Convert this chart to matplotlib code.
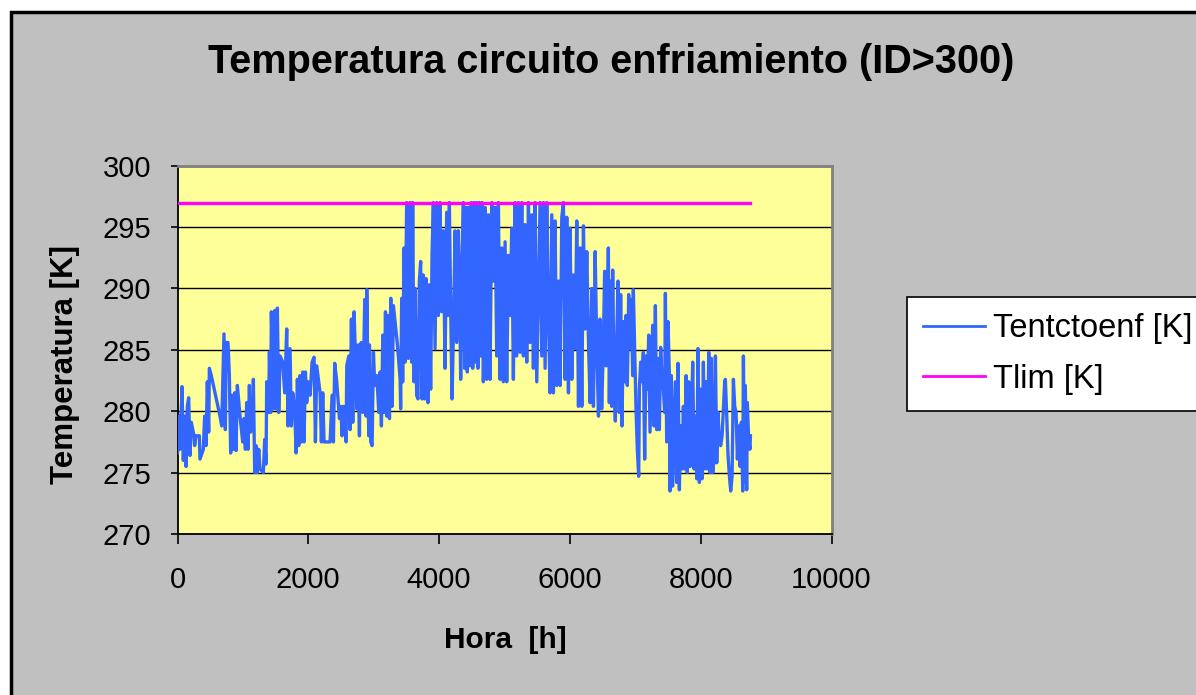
import matplotlib.pyplot as plt
from matplotlib.patches import Rectangle
from matplotlib.lines import Line2D

plt.rcParams["font.family"] = ["Liberation Sans", "DejaVu Sans"]

# hourly cooling-circuit temperature (thinned)
hours = [
    0, 28, 38, 69, 89, 109, 130, 150, 171, 191, 211, 252, 262, 283, 334, 344,
    395, 415, 436, 456, 477, 487, 517, 650, 676, 711, 732, 742, 772, 793, 813,
    834, 854, 874, 895, 915, 956, 997, 1017, 1038, 1058, 1078, 1099, 1119,
    1150, 1160, 1180, 1201, 1221, 1242, 1262, 1313, 1333, 1354, 1364, 1395,
    1405, 1425, 1435, 1466, 1486, 1507, 1527, 1548, 1568, 1609, 1639, 1670,
    1690, 1721, 1741, 1762, 1792, 1813, 1833, 1854, 1874, 1894, 1915, 1935,
    1956, 1976, 1996, 2027, 2058, 2088, 2109, 2129, 2180, 2200, 2221, 2241,
    2282, 2333, 2364, 2384, 2404, 2435, 2476, 2496, 2517, 2537, 2578, 2588,
    2619, 2639, 2659, 2680, 2700, 2721, 2741, 2761, 2782, 2792, 2812, 2833,
    2863, 2884, 2894, 2914, 2925, 2935, 2955, 2976, 2996, 3016, 3047, 3078,
    3098, 3118, 3139, 3159, 3180, 3200, 3220, 3241, 3261, 3282, 3302, 3333,
    3363, 3404,
    3412, 3428, 3443, 3463, 3479, 3504, 3530, 3555, 3581, 3596, 3616, 3632,
    3657, 3677, 3698, 3718, 3739, 3759, 3779, 3800, 3830, 3851, 3871, 3892,
    3912, 3938, 3963, 3989, 4014, 4040, 4065, 4091, 4116, 4136, 4157, 4177,
    4198, 4218, 4244, 4269, 4295, 4310, 4330, 4351, 4371, 4391, 4412, 4432,
    4453, 4473, 4493, 4514, 4534, 4555, 4575, 4595, 4616, 4636, 4657, 4677,
    4703, 4728, 4754, 4779, 4805, 4830, 4856, 4881, 4907, 4932, 4958, 4983,
    5009, 5034, 5060, 5085, 5111, 5136, 5162, 5187, 5213, 5238, 5264, 5289,
    5315, 5340, 5366, 5391, 5417, 5442, 5468, 5493, 5519, 5544, 5570, 5595,
    5621, 5646, 5672, 5697, 5723, 5748, 5774, 5799, 5825, 5850, 5876, 5901,
    5927, 5952, 5978, 6003, 6029, 6054, 6080, 6105, 6131, 6156, 6182, 6207,
    6233, 6258, 6284, 6309, 6335, 6360, 6386, 6411, 6437,
    6460, 6486, 6511, 6531, 6552, 6572, 6588, 6603, 6623, 6639, 6654, 6674,
    6695, 6715, 6735, 6756, 6776, 6797, 6817, 6837, 6858, 6878, 6899, 6919,
    6939, 6960, 6970, 6990, 7011, 7031, 7052, 7062, 7082, 7103, 7123, 7143,
    7164, 7184, 7205, 7225, 7245, 7266, 7286, 7307, 7327, 7347, 7368, 7388,
    7409, 7429, 7449, 7460, 7480, 7500, 7521, 7531, 7551, 7572, 7592, 7613,
    7633, 7653, 7674, 7694, 7715, 7735, 7755, 7776, 7796, 7817, 7837, 7857,
    7878, 7898, 7919, 7939, 7959, 7980, 8000, 8021, 8041, 8061, 8082, 8102,
    8123, 8143, 8163, 8184, 8204, 8225, 8245, 8265, 8286, 8306, 8327, 8347,
    8367, 8377, 8398, 8418, 8439, 8459, 8480, 8500, 8520, 8541, 8561, 8581,
    8602, 8622, 8643, 8653, 8672, 8682, 8703, 8713, 8733, 8753, 8760,
]
t_circuit = [
    276.6, 279.6, 276.9, 282.0, 276.0, 279.6, 275.5, 280.4, 281.1, 276.4,
    279.1, 278.0, 277.2, 278.0, 278.0, 276.1, 276.9, 279.6, 277.2, 282.4,
    278.3, 283.5, 282.9, 279.6, 278.8, 286.3, 278.5, 285.6, 285.6, 282.9,
    276.6, 281.3, 276.9, 281.5, 276.8, 282.1, 279.6, 277.5, 279.4, 276.9,
    280.7, 276.9, 282.1, 278.3, 278.8, 282.6, 275.0, 277.2, 275.0, 276.9,
    275.3, 275.0, 277.7, 275.7, 282.4, 279.9, 284.8, 279.9, 288.1, 280.2,
    288.2, 280.2, 288.4, 279.9, 284.5, 284.0, 281.5, 286.7, 278.8, 285.1,
    278.8, 281.5, 280.2, 276.6, 282.6, 277.2, 282.9, 277.5, 283.2, 277.5,
    283.2, 280.7, 282.4, 281.3, 284.0, 284.4, 277.5, 283.7, 281.5, 277.5,
    281.5, 277.5, 277.5, 277.5, 281.3, 277.5, 283.9, 282.4, 279.4, 280.4,
    278.0, 280.4, 277.5, 283.7, 284.5, 278.5, 287.5, 279.1, 288.1, 284.5,
    280.2, 285.4, 278.0, 285.4, 285.6, 279.9, 289.1, 279.6, 289.9, 281.3,
    278.0, 285.4, 277.5, 277.2, 284.8, 282.1, 282.9, 279.9, 283.2, 278.8,
    286.2, 279.9, 288.1, 279.6, 287.8, 279.4, 289.2, 280.4, 288.6, 287.0,
    285.4, 282.6,
    280.2, 289.2, 282.4, 293.3, 284.0, 297.0, 284.3, 297.0, 284.0, 297.0,
    282.4, 290.0, 281.3, 281.0, 290.6, 292.2, 281.0, 291.1, 281.0, 290.8,
    280.7, 290.3, 281.8, 292.7, 297.0, 285.1, 297.0, 287.8, 297.0, 288.1,
    294.7, 283.5, 296.2, 287.8, 297.0, 288.4, 281.0, 286.2, 294.7, 285.6,
    294.7, 291.1, 282.6, 291.7, 297.0, 283.5, 296.6, 283.2, 296.6, 283.7,
    297.0, 283.5, 297.0, 284.0, 297.0, 283.5, 297.0, 284.5, 297.0, 282.4,
    296.6, 282.6, 296.0, 282.6, 297.0, 290.6, 296.6, 284.5, 297.0, 282.6,
    293.3, 282.4, 293.8, 282.4, 292.7, 287.8, 294.9, 282.6, 297.0, 284.5,
    297.0, 284.8, 297.0, 284.5, 295.2, 284.0, 297.0, 285.6, 296.0, 283.5,
    297.0, 282.4, 290.0, 297.0, 284.5, 297.0, 283.5, 297.0, 287.8, 281.5,
    296.0, 281.5, 295.5, 282.1, 290.6, 282.1, 295.8, 297.0, 282.6, 295.8,
    281.5, 294.9, 282.6, 291.1, 285.1, 295.5, 280.4, 293.3, 280.4, 295.1,
    286.7, 293.0, 285.6, 280.7, 290.0, 280.4, 293.0, 285.1, 279.6,
    287.5, 280.2, 285.1, 291.4, 283.7, 287.8, 293.3, 280.7, 290.6, 280.4,
    291.5, 282.4, 279.2, 285.6, 290.6, 279.9, 289.5, 278.8, 287.3, 282.4,
    287.8, 282.1, 289.5, 285.1, 289.1, 282.9, 289.9, 285.1, 280.2, 276.9,
    274.7, 281.8, 284.0, 282.4, 284.8, 276.1, 284.5, 281.8, 286.2, 278.3,
    282.4, 287.0, 278.8, 288.6, 278.5, 284.3, 278.5, 285.2, 282.4, 281.8,
    279.9, 289.6, 277.5, 287.3, 282.9, 273.5, 282.9, 273.9, 278.0, 282.4,
    274.2, 283.9, 273.6, 278.8, 275.3, 280.4, 275.3, 282.9, 275.0, 282.4,
    275.5, 279.1, 284.0, 275.3, 279.6, 274.5, 285.1, 274.2, 281.8, 274.5,
    284.0, 275.3, 282.4, 275.3, 284.8, 275.0, 284.3, 275.0, 276.1, 284.5,
    275.8, 279.9, 277.5, 277.2, 278.0, 280.2, 282.4, 282.6, 279.6, 276.4,
    274.7, 273.5, 274.7, 282.6, 280.4, 279.9, 276.1, 278.8, 275.5, 279.1,
    273.5, 284.5, 274.2, 282.1, 273.6, 280.7, 277.7, 276.9, 278.0,
]

tlim_hours = [0, 8760]
tlim_value = 297

x_ticks = [0, 2000, 4000, 6000, 8000, 10000]
y_ticks = [270, 275, 280, 285, 290, 295, 300]

W, H = 1196, 695
fig = plt.figure(figsize=(W / 100, H / 100), dpi=100)
fig.patch.set_facecolor("white")

# grey chart area with black frame (cropped on the right and bottom)
fig.patches.append(Rectangle((11 / W, -0.1), 1.2, 1.1 - 12 / H,
                             transform=fig.transFigure, facecolor="#C0C0C0",
                             edgecolor="black", linewidth=2.5, zorder=-10))

ax = fig.add_axes([177.5 / W, 1 - 534 / H, 654 / W, 368.3 / H])
ax.set_facecolor("#FFFF99")

ax.plot(hours, t_circuit, color="#3366FF", linewidth=2.4, zorder=3)
ax.plot(tlim_hours, [tlim_value, tlim_value], color="#FF00FF",
        linewidth=2.4, zorder=4)

ax.set_xlim(0, 10000)
ax.set_ylim(270, 300)
ax.set_xticks(x_ticks)
ax.set_yticks(y_ticks)
ax.yaxis.grid(True, color="black", linewidth=1.0)
ax.set_axisbelow(True)

ax.tick_params(axis="both", labelsize=21, colors="black", width=1.2)
ax.tick_params(axis="x", length=7, pad=16, direction="out")
ax.tick_params(axis="y", length=5, pad=14, direction="out")

for side in ("left", "bottom"):
    ax.spines[side].set_color("black")
    ax.spines[side].set_linewidth(1.3)
for side in ("top", "right"):
    ax.spines[side].set_color("#808080")
    ax.spines[side].set_linewidth(2)

fig.text(611 / W, 1 - 62 / H, "Temperatura circuito enfriamiento (ID>300)",
         ha="center", va="center", fontsize=28.5, fontweight="bold")
fig.text(65 / W, 1 - 365 / H, "Temperatura [K]", rotation=90,
         ha="center", va="center", fontsize=22.5, fontweight="bold")
fig.text(505 / W, 1 - 640 / H, "Hora  [h]",
         ha="center", va="center", fontsize=21.5, fontweight="bold")

handles = [Line2D([], [], color="#3366FF", linewidth=2),
           Line2D([], [], color="#FF00FF", linewidth=2)]
leg = fig.legend(handles, ["Tentctoenf [K]", "Tlim [K]"],
                 loc="upper left", bbox_to_anchor=(907 / W, 1 - 297 / H),
                 borderaxespad=0, fontsize=23.5, frameon=True, fancybox=False,
                 handlelength=1.9, handletextpad=0.25, labelspacing=0.6,
                 borderpad=0.5)
leg.get_frame().set_edgecolor("black")
leg.get_frame().set_linewidth(1.2)
leg.get_frame().set_facecolor("white")
leg.get_frame().set_alpha(1)

fig.savefig("out.png", dpi=100)
